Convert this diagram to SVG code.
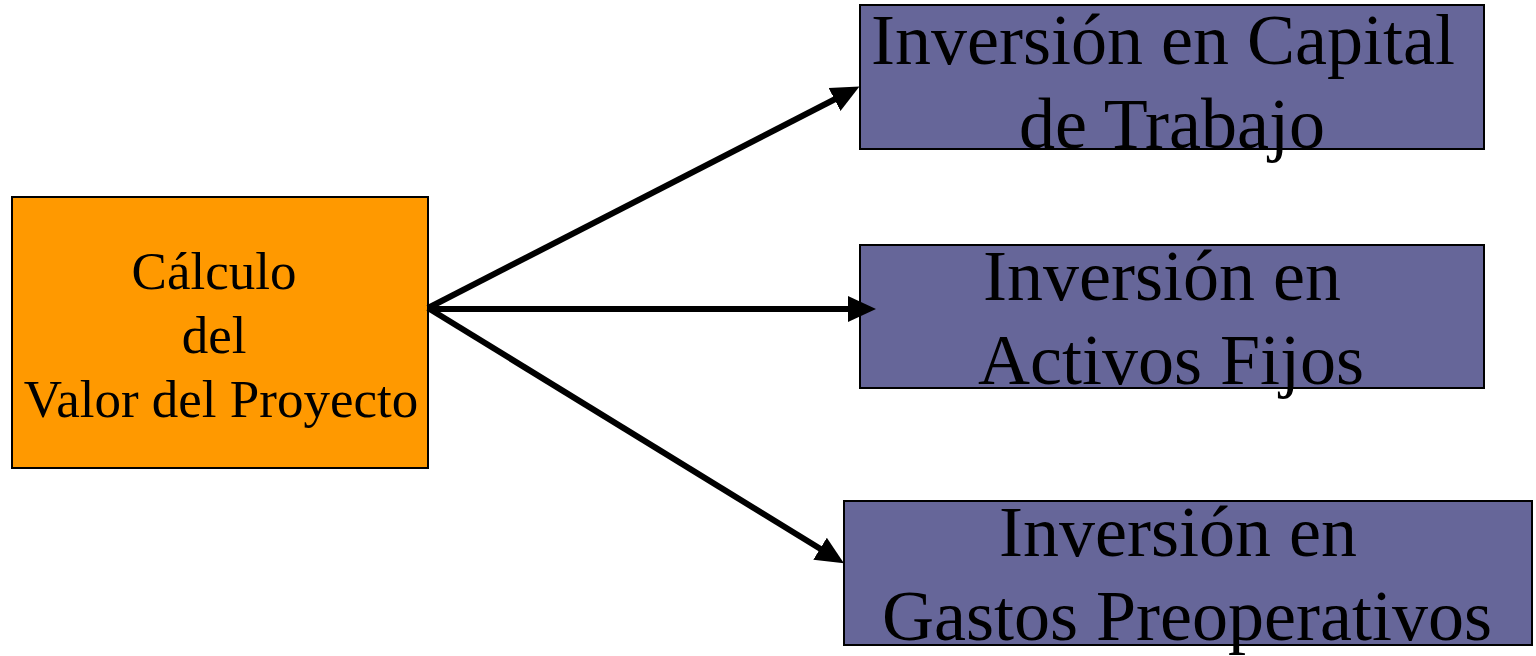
<svg xmlns="http://www.w3.org/2000/svg" width="1536" height="656" viewBox="0 0 1536 656">
  <style>
    .box { stroke: #000; stroke-width: 2; }
    .purple { fill: #666699; }
    .orange { fill: #FF9900; }
    .big { font-family: "Liberation Serif", "Times New Roman", serif; font-size: 72px; fill: #000; text-anchor: middle; }
    .mid { font-family: "Liberation Serif", "Times New Roman", serif; font-size: 53px; fill: #000; text-anchor: middle; }
    .conn { stroke: #000; stroke-width: 6; fill: none; marker-end: url(#arrow); }
  </style>
  <defs>
    <marker id="arrow" markerUnits="userSpaceOnUse" markerWidth="28" markerHeight="28" viewBox="0 0 26 26" refX="13" refY="13" orient="auto">
      <path d="M0,1 L26,13 L0,25 Z" fill="#000"/>
    </marker>
  </defs>
  <rect width="1536" height="656" fill="#fff"/>

  <g id="node-calculo">
    <rect class="box orange" x="12" y="197" width="416" height="271"/>
    <text class="mid" x="214" y="289">Cálculo</text>
    <text class="mid" x="214" y="353">del</text>
    <text class="mid" x="221" y="417">Valor del Proyecto</text>
  </g>

  <g id="node-capital">
    <rect class="box purple" x="860" y="5" width="624" height="144"/>
    <text class="big" x="1163" y="64">Inversión en Capital</text>
    <text class="big" x="1172" y="148">de Trabajo</text>
  </g>

  <g id="node-activos">
    <rect class="box purple" x="860" y="245" width="624" height="143"/>
    <text class="big" x="1162" y="300">Inversión en</text>
    <text class="big" x="1171" y="384">Activos Fijos</text>
  </g>

  <g id="node-gastos">
    <rect class="box purple" x="844" y="501" width="688" height="144"/>
    <text class="big" x="1178" y="556">Inversión en</text>
    <text class="big" x="1187" y="640">Gastos Preoperativos</text>
  </g>

  <g id="connectors">
    <line class="conn" x1="428" y1="308" x2="847" y2="93"/>
    <line class="conn" x1="428" y1="309" x2="862" y2="309"/>
    <line class="conn" x1="428" y1="308" x2="832" y2="556"/>
  </g>
</svg>
